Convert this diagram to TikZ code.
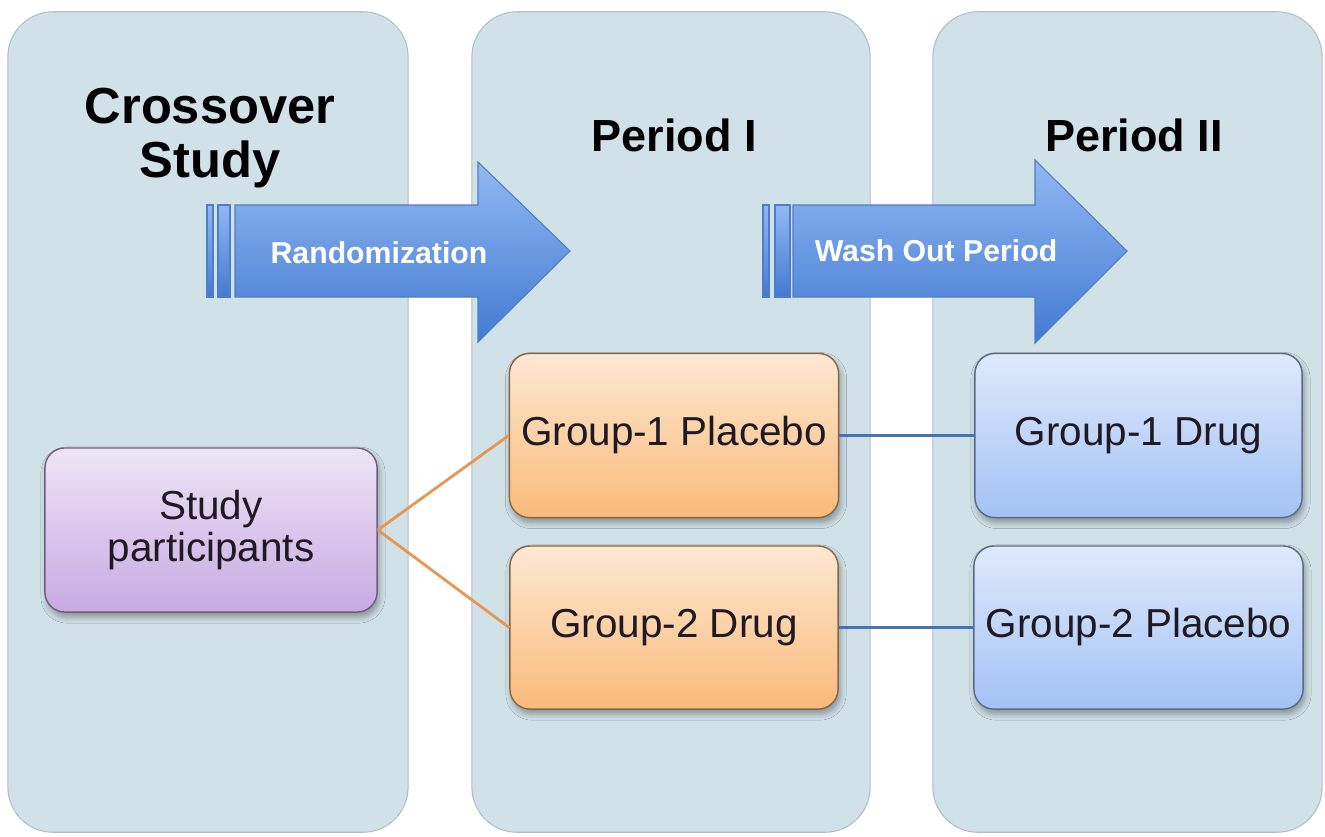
\documentclass[tikz,border=0pt]{standalone}
\usepackage{fontspec}
\setmainfont{Liberation Sans}
\usepackage{tikz}
\usetikzlibrary{positioning}
\usetikzlibrary{shadows.blur}

\definecolor{panelbg}{RGB}{208,225,232}
\definecolor{purtop}{RGB}{238,228,247}
\definecolor{purbot}{RGB}{200,170,226}
\definecolor{ortop}{RGB}{253,232,210}
\definecolor{orbot}{RGB}{250,186,122}
\definecolor{bltop}{RGB}{222,233,251}
\definecolor{blbot}{RGB}{164,194,245}
\definecolor{artop}{RGB}{146,184,242}
\definecolor{arbot}{RGB}{66,122,210}
\definecolor{aredge}{RGB}{80,125,200}
\definecolor{orline}{RGB}{232,150,82}
\definecolor{blline}{RGB}{72,112,182}
\definecolor{boxtext}{RGB}{30,25,35}

\begin{document}
\begin{tikzpicture}[x=0.01cm,y=-0.01cm,
  node distance = 2.7mm,
  panel/.style = {rectangle,rounded corners=4.5mm,fill=panelbg,draw=panelbg!85!black,
  line width=0.3pt,minimum height=8.2cm,inner sep=0pt},
  box/.style = {rectangle,rounded corners=2mm,draw=#1bot!55!black,line width=0.4pt,
  blur shadow={shadow xshift=0.2mm,shadow yshift=-0.5mm,shadow blur radius=0.6mm,
  shadow opacity=35},
  top color=#1top,bottom color=#1bot,minimum width=3.28cm,minimum height=1.64cm,
  align=center,text=boxtext,font=\fontsize{11.5}{12}\selectfont},
  title/.style = {align=center,font=\fontsize{14.4}{15.6}\selectfont\bfseries},
  armlabel/.style = {text=white,font=\fontsize{8.6}{10}\selectfont\bfseries},
  arm/.style = {top color=artop,bottom color=arbot,draw=aredge,line width=0.3pt}]
 \useasboundingbox (0,0) rectangle (1325,836);
 % three columns
 \node[panel,minimum width=4cm] (c1) at (208,422) {};
 \node[panel,minimum width=3.98cm] (c2) at (671,422) {};
 \node[panel,minimum width=3.89cm] (c3) at (1127.5,422) {};
 \node[title] (t1) at (210,138) {Crossover\\Study};
 \node[title,font=\fontsize{12.8}{14}\selectfont\bfseries] (t2) at (674,135) {Period I};
 \node[title,font=\fontsize{12.8}{14}\selectfont\bfseries] (t3) at (1134,135) {Period II};
 % arrows
 \shade[arm] (207,205) rectangle (213,297);
 \shade[arm] (218,205) rectangle (230,297);
 \shade[arm] (235,205) -- (478,205) -- (478,162) -- (570,251) -- (478,342)
  -- (478,297) -- (235,297) -- cycle;
 \shade[arm] (763,205) rectangle (769,297);
 \shade[arm] (775,205) rectangle (790,297);
 \shade[arm] (793,205) -- (1035,205) -- (1035,160) -- (1127,251) -- (1035,343)
  -- (1035,297) -- (793,297) -- cycle;
 \node[armlabel] (a1) at (379,253) {Randomization};
 \node[armlabel] (a2) at (936,251) {Wash Out Period};
 % groups
 \node[box=pur,minimum width=3.32cm] (b1) at (211,530) {Study\\participants};
 \node[box=or] (b2) at (674,435.5) {Group-1 Placebo};
 \node[box=or,minimum height=1.63cm,below=of b2] (b3) {Group-2 Drug};
 \node[box=bl,minimum width=3.27cm] (b4) at (1138.5,435.5) {Group-1 Drug};
 \node[box=bl,minimum width=3.27cm,minimum height=1.63cm,below=of b4] (b5) {Group-2 Placebo};
 \begin{scope}[line width=0.8pt]
  \draw[orline] (b1.east) -- (b2.west);
  \draw[orline] (b1.east) -- (b3.west);
  \draw[blline] (b2.east) -- (b4.west);
  \draw[blline] (b3.east) -- (b5.west);
 \end{scope}
\end{tikzpicture}
\end{document}
